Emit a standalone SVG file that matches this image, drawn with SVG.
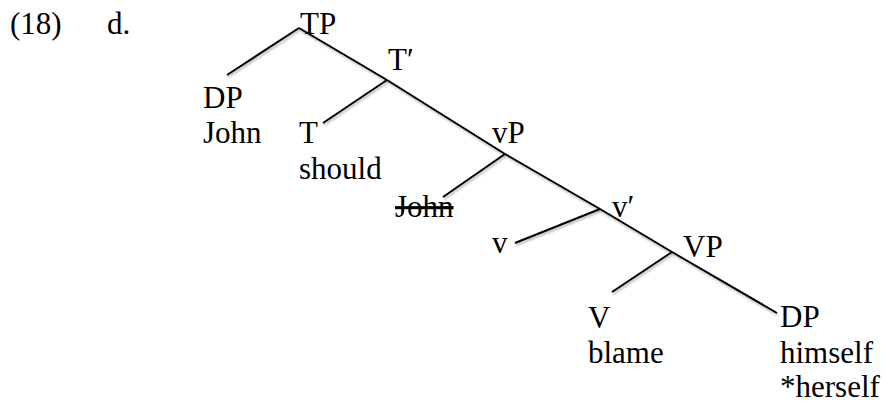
<svg xmlns="http://www.w3.org/2000/svg" width="885" height="406" viewBox="0 0 885 406">
<style>
.lbl { font-family: 'Liberation Serif', 'Times New Roman', serif; font-size: 31px; fill: #000; }
.edge { stroke: #000; stroke-width: 2; fill: none; filter: url(#sh); }
.struck { text-decoration: line-through; }
</style>
<defs>
<filter id="sh" x="-10%" y="-10%" width="130%" height="140%">
<feDropShadow dx="1" dy="2" stdDeviation="1.2" flood-color="#000" flood-opacity="0.3"/>
</filter>
</defs>
<rect width="885" height="406" fill="#fff"/>
<g class="lbl">
<g id="label">
<text x="10" y="34">(18)</text>
<text x="107" y="34">d.</text>
</g>
<g id="connectors" class="edge">
<polyline points="299,28 387,80 505,154 600,209 672,252 777,313"/>
<line x1="299" y1="28" x2="227" y2="75"/>
<line x1="387" y1="80" x2="323" y2="123"/>
<line x1="505" y1="154" x2="443" y2="197"/>
<line x1="600" y1="209" x2="515" y2="243"/>
<line x1="672" y1="252" x2="612" y2="292"/>
</g>
<g id="TP"><text x="300" y="34">TP</text></g>
<g id="DP1"><text x="203" y="108">DP</text><text x="203" y="143">John</text></g>
<g id="Tbar"><text x="388" y="70">T′</text></g>
<g id="T"><text x="299" y="143">T</text><text x="299" y="179">should</text></g>
<g id="vP"><text x="492" y="143">vP</text></g>
<g id="John2"><text x="395" y="217" class="struck">John</text></g>
<g id="vbar"><text x="612" y="217">v′</text></g>
<g id="v"><text x="492" y="253">v</text></g>
<g id="VP"><text x="683" y="257">VP</text></g>
<g id="V"><text x="588" y="328">V</text><text x="588" y="363">blame</text></g>
<g id="DP2"><text x="780" y="327">DP</text><text x="780" y="363">himself</text><text x="780" y="397">*herself</text></g>
</g>
</svg>
